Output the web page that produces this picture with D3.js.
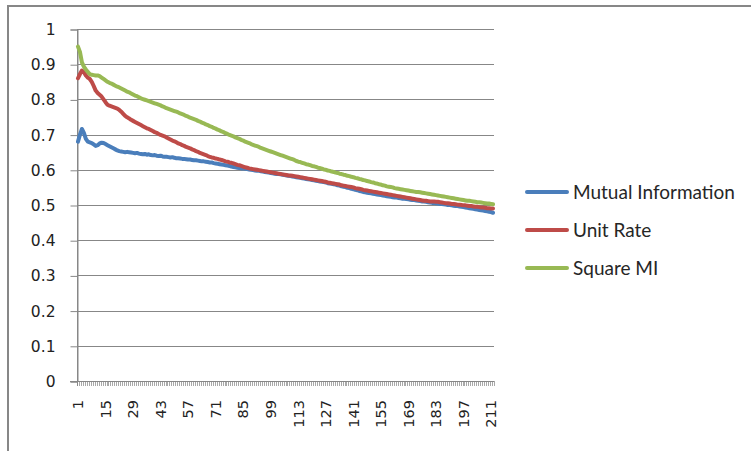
<!DOCTYPE html>
<html>
<head>
<meta charset="utf-8">
<script src="https://cdn.jsdelivr.net/npm/d3@7"></script>
<style>
  html, body { margin: 0; padding: 0; background: #fff; }
  svg { display: block; }
</style>
</head>
<body>
<svg id="chart" width="751" height="451"></svg>
<script>
// Series values, one per step (1..212)
const mutualInformation = [
  0.680, 0.700, 0.716, 0.705, 0.688, 0.680, 0.678, 0.676, 0.672, 0.668, 0.670, 0.675, 0.677, 0.676, 0.673, 0.670, 0.667, 0.664, 0.661, 0.658, 0.655, 0.653, 0.652, 0.651, 0.650,
  0.651, 0.650, 0.649, 0.648, 0.647, 0.648, 0.646, 0.645, 0.644, 0.645, 0.643, 0.644, 0.642, 0.641, 0.642, 0.640, 0.639, 0.640, 0.638, 0.637, 0.637,
  0.636, 0.635, 0.636, 0.634, 0.633, 0.633, 0.632, 0.631, 0.631, 0.630, 0.629, 0.629, 0.628, 0.627, 0.627, 0.626, 0.625,
  0.624, 0.624, 0.623, 0.622, 0.621, 0.621, 0.619, 0.618, 0.617, 0.616, 0.615, 0.614, 0.613, 0.612, 0.611, 0.609, 0.608,
  0.607, 0.606, 0.605, 0.604, 0.604, 0.603, 0.602, 0.601, 0.600, 0.599, 0.598, 0.597, 0.597, 0.596, 0.595, 0.594, 0.593, 0.592, 0.591, 0.590,
  0.589, 0.588, 0.588, 0.587, 0.586, 0.585, 0.584, 0.583, 0.582, 0.581, 0.580, 0.579,
  0.578, 0.577, 0.576, 0.575, 0.574, 0.573, 0.572, 0.571, 0.570, 0.569, 0.568, 0.567, 0.566, 0.565, 0.564, 0.562, 0.561, 0.560,
  0.559, 0.558, 0.556, 0.555, 0.553, 0.552, 0.551, 0.549, 0.548, 0.546, 0.545, 0.543, 0.542, 0.540, 0.539, 0.537,
  0.536, 0.535, 0.534, 0.533, 0.532, 0.531, 0.530, 0.529, 0.528, 0.527, 0.526, 0.525, 0.524, 0.523,
  0.522, 0.521, 0.521, 0.520, 0.519, 0.518, 0.518, 0.517, 0.516, 0.515, 0.514, 0.514, 0.513, 0.512, 0.511, 0.510, 0.510, 0.509, 0.508, 0.507,
  0.506, 0.506, 0.505, 0.504, 0.503, 0.503, 0.502, 0.501, 0.500, 0.500, 0.499, 0.498, 0.497, 0.497, 0.496,
  0.495, 0.494, 0.493, 0.492, 0.491, 0.490, 0.489, 0.488, 0.487, 0.486, 0.485, 0.484, 0.483, 0.482, 0.481, 0.480, 0.478
];

const unitRate = [
  0.860, 0.872, 0.882, 0.878, 0.868, 0.862, 0.858, 0.850, 0.838, 0.825, 0.818, 0.813, 0.808, 0.800, 0.792, 0.785, 0.782, 0.780, 0.778, 0.776, 0.774, 0.770, 0.765, 0.759, 0.753,
  0.749, 0.746, 0.742, 0.739, 0.736, 0.733, 0.730, 0.727,
  0.724, 0.721, 0.718, 0.716, 0.713, 0.710, 0.707, 0.705, 0.702, 0.699,
  0.697, 0.695, 0.692, 0.689, 0.686, 0.683, 0.681, 0.678, 0.675, 0.673, 0.670,
  0.668, 0.665, 0.663, 0.661, 0.658, 0.656, 0.653, 0.651, 0.648, 0.646, 0.644, 0.642, 0.639, 0.637,
  0.635, 0.634, 0.632, 0.631, 0.629, 0.628, 0.626, 0.624, 0.623, 0.621, 0.620, 0.618,
  0.616, 0.614, 0.613, 0.611, 0.609, 0.607, 0.606, 0.604,
  0.603, 0.602, 0.601, 0.600, 0.599, 0.598, 0.597, 0.596, 0.595, 0.594, 0.593, 0.592, 0.591, 0.590, 0.589, 0.588, 0.587, 0.586, 0.585, 0.584, 0.584, 0.583, 0.582, 0.581,
  0.580, 0.579, 0.578, 0.577, 0.576, 0.575, 0.574, 0.573, 0.572, 0.571, 0.570, 0.569, 0.568, 0.567, 0.566, 0.564, 0.563, 0.562, 0.561, 0.560, 0.559, 0.558, 0.556, 0.555, 0.554, 0.553, 0.552, 0.551, 0.550, 0.548, 0.547, 0.546, 0.545, 0.543,
  0.542, 0.541, 0.540, 0.539, 0.538, 0.537, 0.536, 0.535, 0.534, 0.533, 0.532, 0.531, 0.530, 0.529, 0.528, 0.527, 0.526, 0.525, 0.524, 0.523, 0.522, 0.521, 0.520, 0.519, 0.518, 0.517, 0.516, 0.515, 0.514, 0.513, 0.512, 0.512, 0.511, 0.510,
  0.510, 0.510, 0.509, 0.509, 0.508, 0.507, 0.506, 0.505, 0.505, 0.504, 0.503, 0.503, 0.502, 0.501, 0.501, 0.500, 0.499, 0.499, 0.498, 0.497, 0.497, 0.496, 0.495, 0.495, 0.494, 0.493, 0.493, 0.492, 0.491, 0.491, 0.490, 0.490
];

const squareMI = [
  0.950, 0.935, 0.905, 0.893, 0.885, 0.878, 0.872, 0.870, 0.869, 0.868, 0.868, 0.866, 0.862, 0.858, 0.854, 0.850,
  0.847, 0.845, 0.842, 0.839, 0.836, 0.834, 0.831, 0.828, 0.825, 0.822,
  0.820, 0.817, 0.814, 0.811, 0.809, 0.806, 0.803,
  0.801, 0.799, 0.797, 0.795, 0.793, 0.791, 0.789, 0.787, 0.785, 0.783, 0.780, 0.778, 0.775,
  0.773, 0.771, 0.769, 0.767, 0.765, 0.763, 0.760, 0.758, 0.756, 0.753, 0.751, 0.748, 0.746, 0.744, 0.742, 0.739, 0.737,
  0.734, 0.732, 0.729, 0.727, 0.724, 0.722, 0.719, 0.717, 0.714, 0.712, 0.709, 0.707, 0.704, 0.702, 0.699,
  0.697, 0.695, 0.692, 0.690, 0.688, 0.685, 0.683, 0.680, 0.678, 0.676, 0.673, 0.671, 0.669, 0.667, 0.665, 0.662, 0.660,
  0.658, 0.656, 0.654, 0.652, 0.650, 0.648, 0.646, 0.644, 0.642, 0.640, 0.638, 0.636, 0.634, 0.632, 0.630, 0.628, 0.625,
  0.623, 0.622, 0.620, 0.618, 0.616, 0.615, 0.613, 0.611, 0.610, 0.608, 0.606, 0.605, 0.603, 0.601, 0.600, 0.598, 0.597,
  0.595, 0.594, 0.592, 0.591, 0.589, 0.588, 0.586, 0.585, 0.583, 0.582, 0.580, 0.579, 0.577, 0.576, 0.574, 0.573, 0.571,
  0.570, 0.568, 0.567, 0.565, 0.564, 0.562, 0.561, 0.559, 0.558, 0.556, 0.555, 0.553, 0.552, 0.551, 0.550, 0.548, 0.547,
  0.546, 0.545, 0.544, 0.543, 0.542, 0.541, 0.540, 0.539, 0.538, 0.537, 0.537, 0.536, 0.535, 0.534, 0.533, 0.532, 0.531,
  0.530, 0.529, 0.528, 0.527, 0.526, 0.525, 0.524, 0.523, 0.522, 0.521, 0.520, 0.519, 0.518, 0.517, 0.516, 0.515, 0.514,
  0.513, 0.512, 0.512, 0.511, 0.510, 0.509, 0.508, 0.508, 0.507, 0.506, 0.505, 0.504, 0.504, 0.503, 0.502
];

const seriesNames = ["Mutual Information", "Unit Rate", "Square MI"];
const seriesColors = ["#4a7ebb", "#be4b48", "#98b954"];
const yTicks = [0, 0.1, 0.2, 0.3, 0.4, 0.5, 0.6, 0.7, 0.8, 0.9, 1];
const xLabelStep = 14;

const categories = d3.range(1, mutualInformation.length + 1);
const seriesData = [mutualInformation, unitRate, squareMI];

const svg = d3.select("#chart");
const W = 751, H = 451;
const plot = { left: 77, right: 494, top: 29, bottom: 381 };
const gray = "#878787";

// chart frame
svg.append("rect")
  .attr("x", 8).attr("y", 6)
  .attr("width", W + 10).attr("height", H + 10)
  .attr("fill", "#fff")
  .attr("stroke", gray).attr("stroke-width", 2);

const x = d3.scaleBand().domain(categories).range([plot.left, plot.right]).padding(0);
const y = d3.scaleLinear().domain([0, 1]).range([plot.bottom, plot.top]);
const xc = d => x(d) + x.bandwidth() / 2;

// horizontal gridlines
svg.append("g")
  .selectAll("line")
  .data(yTicks.filter(t => t > 0))
  .join("line")
  .attr("x1", plot.left).attr("x2", plot.right)
  .attr("y1", d => Math.round(y(d)) + 0.5).attr("y2", d => Math.round(y(d)) + 0.5)
  .attr("stroke", gray).attr("stroke-width", 1);

// y axis
const yAxis = svg.append("g")
  .attr("transform", `translate(${plot.left + 0.5},0.5)`)
  .call(d3.axisLeft(y).tickValues(yTicks).tickSize(7).tickPadding(15).tickFormat(d3.format("~g")));
yAxis.selectAll("path, line").attr("stroke", gray);
yAxis.selectAll("text")
  .attr("font-family", "DejaVu Sans")
  .attr("font-size", 15.5)
  .attr("fill", "#222");

// x axis baseline, one tick at every category boundary
const boundaries = categories.map(c => x(c)).concat([plot.right]);
svg.append("g")
  .selectAll("line")
  .data(boundaries)
  .join("line")
  .attr("x1", d => Math.round(d) + 0.5).attr("x2", d => Math.round(d) + 0.5)
  .attr("y1", plot.bottom).attr("y2", plot.bottom + 5)
  .attr("stroke", "#a8a8a8").attr("stroke-width", 1);
svg.append("line")
  .attr("x1", plot.left - 7).attr("x2", plot.right)
  .attr("y1", Math.round(y(0)) + 0.5).attr("y2", Math.round(y(0)) + 0.5)
  .attr("stroke", gray).attr("stroke-width", 1);
svg.append("line")
  .attr("x1", plot.left + 0.5).attr("x2", plot.left + 0.5)
  .attr("y1", plot.top).attr("y2", plot.bottom + 5)
  .attr("stroke", gray).attr("stroke-width", 1);

// rotated category labels
svg.append("g")
  .selectAll("text")
  .data(categories.filter(c => (c - 1) % xLabelStep === 0))
  .join("text")
  .attr("transform", d => `translate(${xc(d)},${plot.bottom + 19}) rotate(-90)`)
  .attr("text-anchor", "end")
  .attr("dy", "0.36em")
  .attr("font-family", "DejaVu Sans")
  .attr("font-size", 14.5)
  .attr("fill", "#222")
  .text(d => d);

// series lines
const line = d3.line()
  .x((v, i) => xc(categories[i]))
  .y(v => y(v));

svg.append("g")
  .selectAll("path")
  .data(seriesData)
  .join("path")
  .attr("d", d => line(d))
  .attr("fill", "none")
  .attr("stroke", (d, i) => seriesColors[i])
  .attr("stroke-width", 4)
  .attr("stroke-linejoin", "round")
  .attr("stroke-linecap", "round");

// legend
const legend = svg.append("g");
const legendY = [192, 230, 268];
seriesNames.forEach((name, i) => {
  legend.append("line")
    .attr("x1", 527).attr("x2", 567)
    .attr("y1", legendY[i]).attr("y2", legendY[i])
    .attr("stroke", seriesColors[i])
    .attr("stroke-width", 4)
    .attr("stroke-linecap", "round");
  legend.append("text")
    .attr("x", 573).attr("y", legendY[i])
    .attr("dy", "0.35em")
    .attr("font-family", "Lato")
    .attr("font-size", 19)
    .attr("fill", "#262626")
    .text(name);
});
</script>
</body>
</html>
